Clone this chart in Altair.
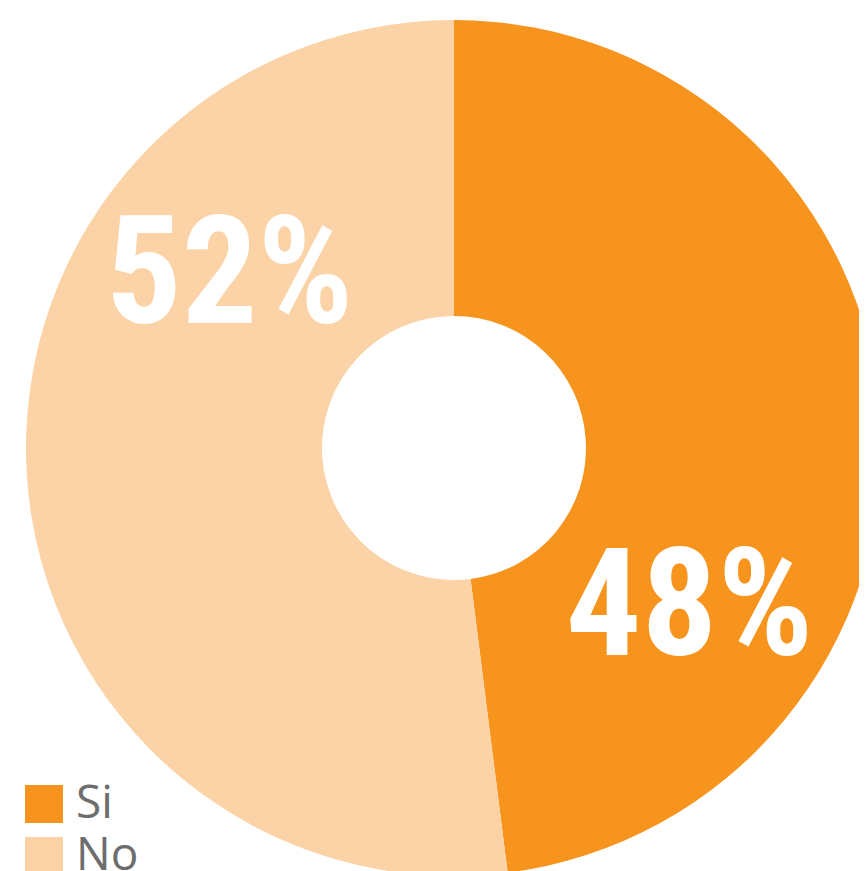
import altair as alt
import pandas as pd

categories = ["Si", "No"]
values = [48, 52]
labels = ["48%", "52%"]
colors = ["#F7941E", "#FBD3A6"]

df = pd.DataFrame({"cat": categories, "value": values, "label": labels, "ord": [0, 1]})

CX, CY = 446, 440
theta_scale = alt.Scale(domain=[0, 100])

arc = alt.Chart(df).mark_arc(innerRadius=132, outerRadius=428, stroke=None).encode(
    theta=alt.Theta("value:Q", stack=True, scale=theta_scale),
    order=alt.Order("ord:Q"),
    x=alt.value(CX),
    y=alt.value(CY),
    color=alt.Color(
        "cat:N",
        scale=alt.Scale(domain=categories, range=colors),
        sort=categories,
        legend=alt.Legend(
            title=None,
            orient="none",
            legendX=13,
            legendY=773,
            symbolType="square",
            symbolSize=1444,
            symbolStrokeWidth=0,
            labelFontSize=46,
            labelFont="Open Sans",
            labelColor="#6D6D6D",
            labelOffset=9,
            rowPadding=6,
            labelLimit=300,
        ),
    ),
)

font = "Roboto Condensed, Liberation Sans Narrow, Roboto, sans-serif"


def label_layer(cat, dx, dy):
    return (
        alt.Chart(df)
        .transform_window(cum="sum(value)", sort=[alt.SortField("ord")])
        .transform_calculate(mid="datum.cum - datum.value / 2")
        .transform_filter(alt.datum.cat == cat)
        .mark_text(
            radius=281, fontSize=150, fontWeight="bold", font=font, color="white",
            baseline="middle", align="center", dx=dx, dy=dy,
        )
        .encode(
            theta=alt.Theta("mid:Q", stack=None, scale=theta_scale),
            x=alt.value(CX),
            y=alt.value(CY),
            text="label:N",
        )
    )


txt_si = label_layer("Si", -45, 180)
txt_no = label_layer("No", 56, -188)

chart = alt.layer(arc, txt_si, txt_no).properties(
    width=851, height=863, padding=0, autosize="none"
).configure_view(stroke=None)

chart.save("out.html", embed_options={"renderer": "svg", "actions": False})
